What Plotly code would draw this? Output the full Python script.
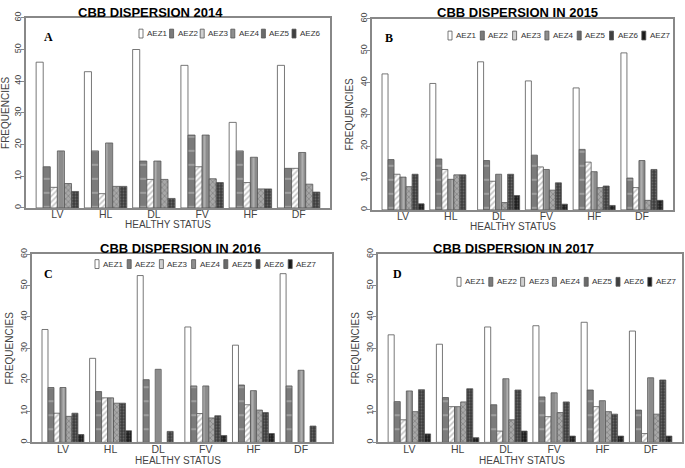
import plotly.graph_objects as go

W, H = 685, 468

status = ["LV", "HL", "DL", "FV", "HF", "DF"]

# frequencies, one list per agro-ecological zone
freq_2014 = {
    "AEZ1": [46, 43, 50, 45, 27, 45],
    "AEZ2": [13, 18, 14.8, 23, 18, 12.5],
    "AEZ3": [6.5, 4.5, 9, 13, 8, 12.5],
    "AEZ4": [18, 20.5, 14.8, 23, 16, 17.5],
    "AEZ5": [7.7, 6.8, 9, 9.2, 6, 7.5],
    "AEZ6": [5.2, 6.8, 3, 8, 6, 5],
}
freq_2015 = {
    "AEZ1": [42.7, 39.7, 46.5, 40.5, 38.3, 49.3],
    "AEZ2": [15.8, 16, 15.5, 17.2, 19, 10],
    "AEZ3": [11.2, 12.7, 9, 13.5, 15, 7],
    "AEZ4": [10.3, 9.6, 11.2, 12.7, 12, 15.5],
    "AEZ5": [7.3, 11, 2.3, 6.2, 7, 3],
    "AEZ6": [11.2, 11, 11.2, 8.5, 7.5, 12.7],
    "AEZ7": [1.9, None, 4.5, 1.8, 1.4, 3],
}
freq_2016 = {
    "AEZ1": [36, 26.8, 53.2, 36.8, 31, 53.8],
    "AEZ2": [17.5, 16.2, 20, 18, 18.3, 18],
    "AEZ3": [9.3, 14.2, None, 9.2, 12, None],
    "AEZ4": [17.5, 14.2, 23.3, 18, 16.5, 23],
    "AEZ5": [8.3, 12.5, None, 7.8, 10.3, None],
    "AEZ6": [9.3, 12.5, 3.5, 8.5, 9.5, 5.2],
    "AEZ7": [2.5, 3.7, None, 2.2, 2.8, None],
}
freq_2017 = {
    "AEZ1": [34.3, 31.3, 36.8, 37.2, 38.3, 35.5],
    "AEZ2": [13, 14.3, 12, 14.5, 16.7, 10.3],
    "AEZ3": [7.2, 11.4, 3.6, 8.2, 11.4, 2.8],
    "AEZ4": [16.4, 11.4, 20.3, 15.8, 13.3, 20.6],
    "AEZ5": [9.8, 12.9, 7.2, 9.5, 9.8, 9],
    "AEZ6": [16.8, 17.1, 16.7, 12.9, 9, 19.9],
    "AEZ7": [2.7, 1.5, 3.6, 2, 2, 2],
}

ZONE_STYLE = {
    "AEZ1": dict(color="white", pattern=dict(shape="")),
    "AEZ2": dict(color="#7b7b7b", pattern=dict(shape="-", fgcolor="#dedede", size=14, solidity=0.1)),
    "AEZ3": dict(color="white", pattern=dict(shape="/", fgcolor="#8a8a8a", size=4, solidity=0.4)),
    "AEZ4": dict(color="#8c8c8c", pattern=dict(shape="|", fgcolor="#cfcfcf", size=7, solidity=0.3)),
    "AEZ5": dict(color="#a8a8a8", pattern=dict(shape="x", fgcolor="#505050", size=4, solidity=0.3)),
    "AEZ6": dict(color="#3c3c3c", pattern=dict(shape=".", fgcolor="#9a9a9a", size=3, solidity=0.3)),
    "AEZ7": dict(color="#1c1c1c", pattern=dict(shape=".", fgcolor="#7a7a7a", size=3, solidity=0.3)),
}
SWATCH = {"AEZ1": "white", "AEZ2": "#7b7b7b", "AEZ3": "#d0d0d0", "AEZ4": "#8e8e8e",
          "AEZ5": "#6a6a6a", "AEZ6": "#404040", "AEZ7": "#1a1a1a"}

# pixel placement of each panel (plot box left, right, top, bottom)
panels = [
    dict(data=freq_2014, title="CBB DISPERSION 2014", tag="A",
         box=(26, 330, 12, 205), title_xy=(150, 7), tag_xy=(48, 31),
         xtitle_xy=(168, 222), legend_xy=(139, 28), legend_step=30.6),
    dict(data=freq_2015, title="CBB DISPERSION IN 2015", tag="B",
         box=(372, 673, 13, 207), title_xy=(517, 7), tag_xy=(389, 32),
         xtitle_xy=(513, 224), legend_xy=(448, 30), legend_step=32.3),
    dict(data=freq_2016, title="CBB DISPERSION IN 2016", tag="C",
         box=(32, 332, 252, 443), title_xy=(180, 246), tag_xy=(49, 272),
         xtitle_xy=(178, 461), legend_xy=(95, 262), legend_step=32.2),
    dict(data=freq_2017, title="CBB DISPERSION IN 2017", tag="D",
         box=(378, 682, 252, 443), title_xy=(513, 246), tag_xy=(397, 272),
         xtitle_xy=(522, 461.5), legend_xy=(457, 280), legend_step=31.8),
]


def px(x, y):
    return x / W, 1 - y / H


fig = go.Figure()
annotations = []
shapes = []
AX_FONT = dict(family="Liberation Sans, Arial", color="#444")

for i, p in enumerate(panels, start=1):
    sfx = "" if i == 1 else str(i)
    for zone, values in p["data"].items():
        st = ZONE_STYLE[zone]
        fig.add_trace(go.Bar(
            x=status, y=values, name=zone, showlegend=False,
            xaxis="x" + sfx, yaxis="y" + sfx,
            marker=dict(color=st["color"], pattern=st["pattern"],
                        line=dict(color="#555", width=0.8)),
        ))

    x0, x1, top, bottom = p["box"]
    fig.update_layout(**{
        "xaxis" + sfx: dict(
            domain=[x0 / W, x1 / W], anchor="y" + sfx, range=[-0.65, 5.65],
            showline=True, mirror=True, linecolor="#888", linewidth=1.5,
            ticks="", ticklabelstandoff=-4, tickfont=dict(size=10.5, **AX_FONT),
        ),
        "yaxis" + sfx: dict(
            domain=[1 - bottom / H, 1 - top / H], anchor="x" + sfx, range=[0, 60],
            dtick=10, tickangle=-90, ticks="outside", ticklen=3, tickcolor="#888",
            ticklabelstandoff=-3,
            showgrid=False, zeroline=False,
            showline=True, mirror=True, linecolor="#888", linewidth=1.5,
            tickfont=dict(size=9, **AX_FONT),
            title=dict(text="FREQUENCIES", font=dict(size=10, **AX_FONT), standoff=3),
        ),
    })

    tx, ty = px(*p["title_xy"])
    annotations.append(dict(
        text="<b>%s</b>" % p["title"], x=tx, y=ty, xref="paper", yref="paper",
        showarrow=False, xanchor="center", yanchor="middle",
        font=dict(family="Liberation Sans, Arial", size=13, color="black"),
    ))
    xx, xy = px(*p["xtitle_xy"])
    annotations.append(dict(
        text="HEALTHY STATUS", x=xx, y=xy, xref="paper", yref="paper",
        showarrow=False, xanchor="center", yanchor="middle",
        font=dict(size=10, **AX_FONT),
    ))
    gx, gy = px(*p["tag_xy"])
    annotations.append(dict(
        text="<b>%s</b>" % p["tag"], x=gx, y=gy, xref="paper", yref="paper",
        showarrow=False, xanchor="center", yanchor="middle",
        font=dict(family="Liberation Serif, Times New Roman", size=12, color="black"),
    ))

    lx, ly = p["legend_xy"]
    for k, zone in enumerate(p["data"]):
        ix = lx + k * p["legend_step"]
        sx0, sy0 = px(ix, ly - 4.5)
        sx1, sy1 = px(ix + 4, ly + 4.5)
        shapes.append(dict(type="rect", xref="paper", yref="paper",
                           x0=sx0, x1=sx1, y0=sy1, y1=sy0,
                           fillcolor=SWATCH[zone], line=dict(color="#555", width=0.8)))
        ax, ay = px(ix + 6, ly)
        annotations.append(dict(
            text=zone, x=ax, y=ay, xref="paper", yref="paper", showarrow=False,
            xanchor="left", yanchor="middle",
            font=dict(family="Liberation Sans, Arial", size=8, color="#333"),
        ))

fig.update_layout(
    width=W, height=H,
    margin=dict(l=0, r=0, t=0, b=0),
    paper_bgcolor="white", plot_bgcolor="white",
    barmode="group", bargap=0.12, bargroupgap=0,
    annotations=annotations, shapes=shapes,
)

# the page's default body margin would push the fixed-size figure off the window
fig.write_html("out.html", config={"displayModeBar": False},
               post_script="document.body.style.margin='0';")
